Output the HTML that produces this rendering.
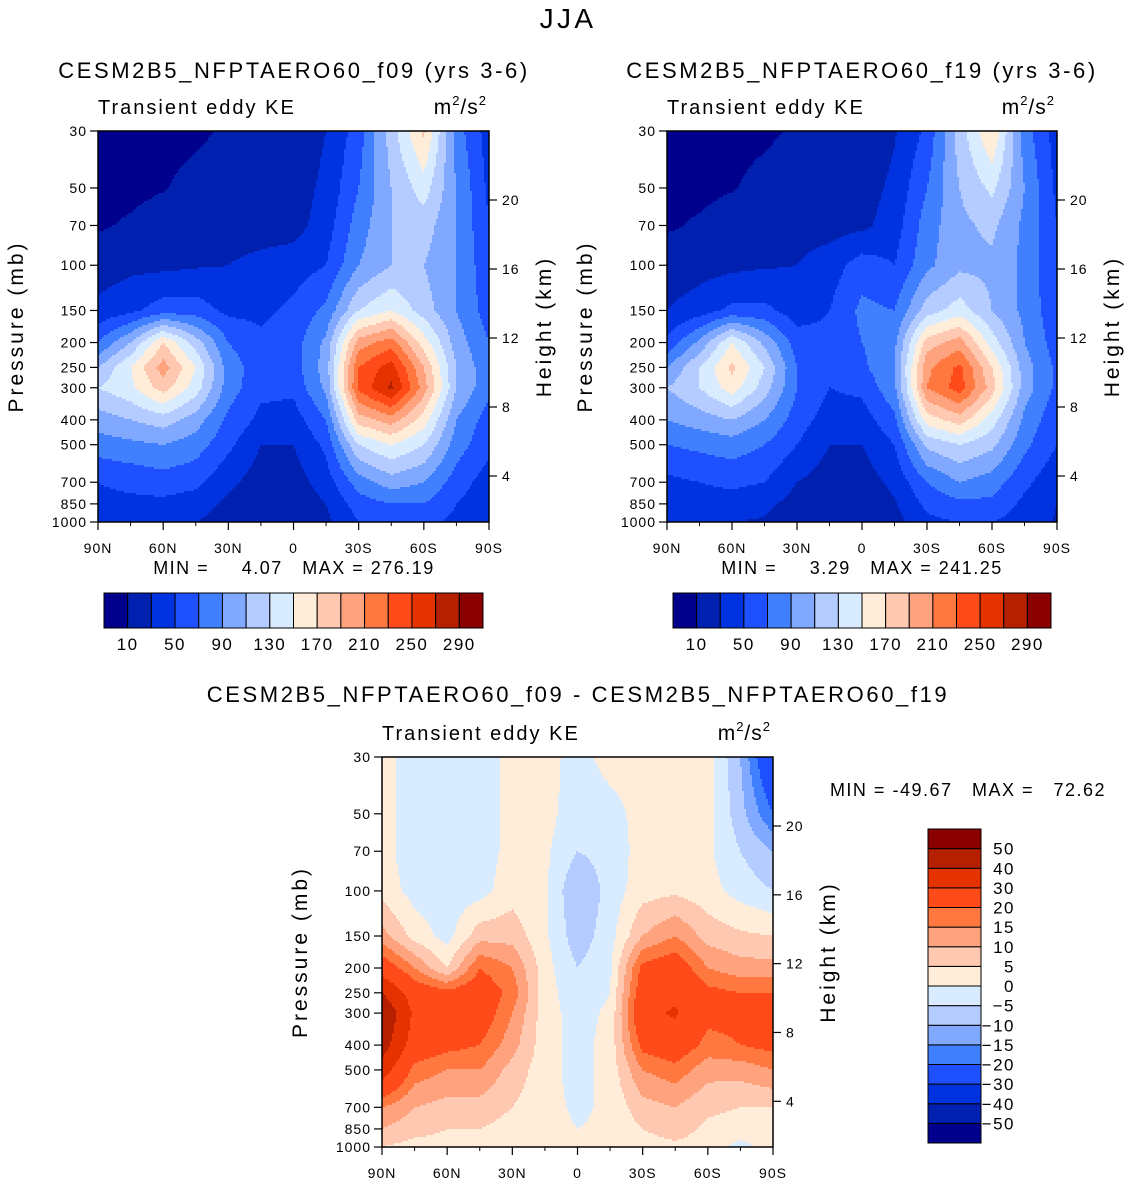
<!DOCTYPE html>
<html><head><meta charset="utf-8"><style>
body{margin:0;background:#fff;}
#root{position:relative;width:1137px;height:1185px;overflow:hidden;font-family:"Liberation Sans",sans-serif;color:#000;}
text{white-space:pre;}
</style></head><body>
<div id="root">
<svg id="svg" width="1137" height="1185" style="position:absolute;left:0;top:0"></svg>
</div>
<script>
const lats=[90,75,60,45,30,15,0,-15,-30,-45,-60,-75,-90];
const presLevels=[30,50,70,100,150,200,250,300,400,500,700,850,1000];
const f09Grid=[
[5,5,5,7,12,20,15,30,60,120,175,80,40],
[5,6,9,15,20,20,20,35,70,110,140,90,45],
[8,12,18,22,22,22,22,40,80,110,120,90,50],
[20,25,25,28,30,35,40,50,90,110,110,90,55],
[35,45,60,60,45,45,55,75,130,150,120,90,60],
[70,110,170,120,70,55,60,95,200,220,160,100,70],
[110,150,200,150,80,60,60,100,230,260,190,110,75],
[130,145,180,140,80,55,55,95,235,275,200,110,75],
[100,110,120,100,65,45,40,70,180,200,160,90,60],
[80,85,90,80,55,30,30,55,130,150,130,80,55],
[50,55,60,55,35,20,20,40,80,100,90,60,40],
[45,45,45,40,25,15,15,30,60,70,70,50,35],
[40,35,35,30,20,12,10,25,50,55,55,45,30]];
const f19Grid=[
[5,5,5,7,12,18,12,28,55,120,170,80,40],
[5,6,9,15,20,20,20,35,70,110,135,90,45],
[8,12,18,22,22,22,25,40,80,105,115,85,50],
[18,22,25,28,30,40,60,50,85,105,105,85,50],
[30,40,55,55,40,50,75,70,120,140,110,85,55],
[55,95,150,105,60,55,70,85,180,200,140,90,60],
[90,130,175,130,70,55,65,90,205,235,170,100,65],
[110,130,160,120,70,50,55,85,210,240,180,100,65],
[90,100,110,90,60,40,40,65,160,180,140,85,55],
[70,75,80,70,50,30,30,50,115,130,115,75,50],
[45,50,55,50,30,20,20,35,70,90,80,55,35],
[40,40,40,35,22,15,15,28,55,65,65,45,30],
[35,30,30,28,18,12,10,22,45,50,50,40,28]];
const diffGrid=[
[2,-3,-3,-3,2,2,-2,2,2,2,2,-10,-30],
[2,-3,-3,-3,2,2,-3,-2,2,2,2,-8,-20],
[2,-3,-3,-3,2,1,-5,-3,2,3,1,-5,-10],
[3,-2,-3,-2,3,1,-10,-3,3,4,2,-2,-5],
[12,3,-2,8,8,1,-8,-2,10,15,8,6,5],
[25,15,5,20,15,2,-5,-1,22,25,15,12,12],
[40,25,22,25,18,2,-3,0,25,28,22,20,20],
[50,28,25,25,15,2,-2,1,28,31,22,22,25],
[45,25,22,20,12,2,-2,2,22,25,18,20,22],
[35,18,15,15,8,2,-2,2,15,18,12,12,15],
[15,10,8,8,5,2,-1,1,8,10,6,5,5],
[10,7,5,5,3,2,0,1,5,7,4,3,3],
[5,3,3,2,2,2,1,1,3,4,3,-2,3]];
const contourLevels=[10,30,50,70,90,110,130,150,170,190,210,230,250,270,290];
const contourLabels=["10","50","90","130","170","210","250","290"];
const diffLevels=[-50,-40,-30,-20,-15,-10,-5,0,5,10,15,20,30,40,50];
const palette=["#00008c","#0020b0","#0032e0","#1e50ff","#4080ff","#80a8ff","#b4ccff","#d8ebff","#ffecd9","#ffc8b0","#ffa37f","#ff7840","#ff4a1a","#e43200","#b52000","#8a0000"];
const presTicks=[30,50,70,100,150,200,250,300,400,500,700,850,1000];
const kmTicks=[4,8,12,16,20];
const latTicks=["90N","60N","30N","0","30S","60S","90S"];

const NS="http://www.w3.org/2000/svg";
const svg=document.getElementById('svg');
function mk(tag,attrs,parent){const e=document.createElementNS(NS,tag);for(const k in attrs)e.setAttribute(k,attrs[k]);(parent||svg).appendChild(e);return e;}
function txt(x,y,s,size,anchor,parent,rot,ls){const e=mk('text',{x:x,y:y,'font-size':size,'text-anchor':anchor||'start','font-family':'Liberation Sans, sans-serif','letter-spacing':(ls!==undefined?ls:size*0.12)},parent);if(rot)e.setAttribute('transform','rotate(-90 '+x+' '+y+')');e.textContent=s;return e;}

function colorIdx(v,lv){let i=0;while(i<lv.length&&v>=lv[i])i++;return i;}

function panel(x0,y0,w,h,grid,lv,name){
  const g=mk('g',{});
  
  
  const ys=p=>y0+Math.log(p/30)/Math.log(1000/30)*h;
  const step=2;
  for(let py=0;py<h;py+=step){
    const p=30*Math.pow(1000/30,(py+step/2)/h);
    let j=0;while(j<presLevels.length-2&&p>presLevels[j+1])j++;
    const ty=(Math.log(p)-Math.log(presLevels[j]))/(Math.log(presLevels[j+1])-Math.log(presLevels[j]));
    let runStart=0,runColor=-1;
    for(let px=0;px<w+step;px+=step){
      let ci=-2;
      if(px<w){
        const lat=90-Math.min(px+step/2,w)/w*180;
        let i=Math.min(11,Math.floor((90-lat)/15));
        const tx=((90-lat)-i*15)/15;
        const a=grid[j][i]*(1-tx)+grid[j][i+1]*tx;
        const b=grid[j+1][i]*(1-tx)+grid[j+1][i+1]*tx;
        ci=colorIdx(a*(1-ty)+b*ty,lv);
      }
      if(ci!==runColor){
        if(runColor>=0){mk('rect',{x:x0+runStart,y:y0+py,width:Math.min(px,w)-runStart+0.3,height:Math.min(step,h-py)+0.3,fill:palette[runColor]},g);}
        runStart=px;runColor=ci;
      }
    }
  }
  mk('rect',{x:x0,y:y0,width:w,height:h,fill:'none',stroke:'#000','stroke-width':1.5},g);
  presTicks.forEach(p=>{const y=ys(p);mk('line',{x1:x0-8,y1:y,x2:x0,y2:y,stroke:'#000','stroke-width':1.2},g);txt(x0-11,y+5,String(p),14,'end',g,false,1);});
  kmTicks.forEach(k=>{const yy=y0+69+(20-k)*17.25*(h/391);mk('line',{x1:x0+w,y1:yy,x2:x0+w+8,y2:yy,stroke:'#000','stroke-width':1.2},g);txt(x0+w+13,yy+5,String(k),14,'start',g,false,1);});
  latTicks.forEach((l,i)=>{const x=x0+i*w/6;mk('line',{x1:x,y1:y0+h,x2:x,y2:y0+h+8,stroke:'#000','stroke-width':1.2},g);txt(x,y0+h+31,l,14,'middle',g,false,1);});
  [15,45,75,105,135,165].forEach(v=>{const x=x0+v/180*w;mk('line',{x1:x,y1:y0+h,x2:x,y2:y0+h+4,stroke:'#000'},g);});
  txt(x0-75,y0+h/2,'Pressure (mb)',21,'middle',g,true,3);
  txt(x0+w+62,y0+h/2,'Height (km)',21,'middle',g,true,3);
  txt(x0,y0-17,'Transient eddy KE',20,'start',g,false,2);
  const u=txt(x0+w-2,y0-17,'',21,'end',g,false,1);
  u.innerHTML='m<tspan font-size="13" dy="-9">2</tspan><tspan dy="9">/s</tspan><tspan font-size="13" dy="-9">2</tspan>';
}

txt(568,28,'JJA',28,'middle');
txt(294,78,'CESM2B5_NFPTAERO60_f09 (yrs 3-6)',22,'middle',null,false,2.6);
txt(862,78,'CESM2B5_NFPTAERO60_f19 (yrs 3-6)',22,'middle',null,false,2.6);
txt(578,702,'CESM2B5_NFPTAERO60_f09 - CESM2B5_NFPTAERO60_f19',22,'middle',null,false,2.6);
panel(98,131,391,391,f09Grid,contourLevels,'f09-contour-panel');
panel(667,131,390,391,f19Grid,contourLevels,'f19-contour-panel');
panel(382,757,391,390,diffGrid,diffLevels,'diff-contour-panel');
txt(294,574,'MIN =     4.07   MAX = 276.19',18,'middle',null,false,1.5);
txt(862,574,'MIN =     3.29   MAX = 241.25',18,'middle',null,false,1.5);
txt(968,796,'MIN = -49.67   MAX =   72.62',18,'middle',null,false,1.5);

function hbar(x0,y0,w,h,name){
  const g=mk('g',{});
  const bw=w/palette.length;
  palette.forEach((c,i)=>mk('rect',{x:x0+i*bw,y:y0,width:bw,height:h,fill:c,stroke:'#000','stroke-width':1},g));
  contourLabels.forEach((l,i)=>txt(x0+(i*2+1)*bw,y0+h+22,l,17,'middle',g,false,1.5));
}
hbar(104,593,379,35,'f09-colorbar');
hbar(673,593,378,35,'f19-colorbar');
(function(){
  const g=mk('g',{});
  const x0=928,y0=829,w=53,h=314,bh=h/palette.length;
  palette.forEach((c,i)=>mk('rect',{x:x0,y:y0+h-(i+1)*bh,width:w,height:bh,fill:c,stroke:'#000','stroke-width':1},g));
  diffLevels.forEach((l,i)=>txt(1015,y0+h-(i+1)*bh+6,String(l).replace('-','\u2212'),17,'end',g,false,1.5));
})();
</script>
</body></html>
